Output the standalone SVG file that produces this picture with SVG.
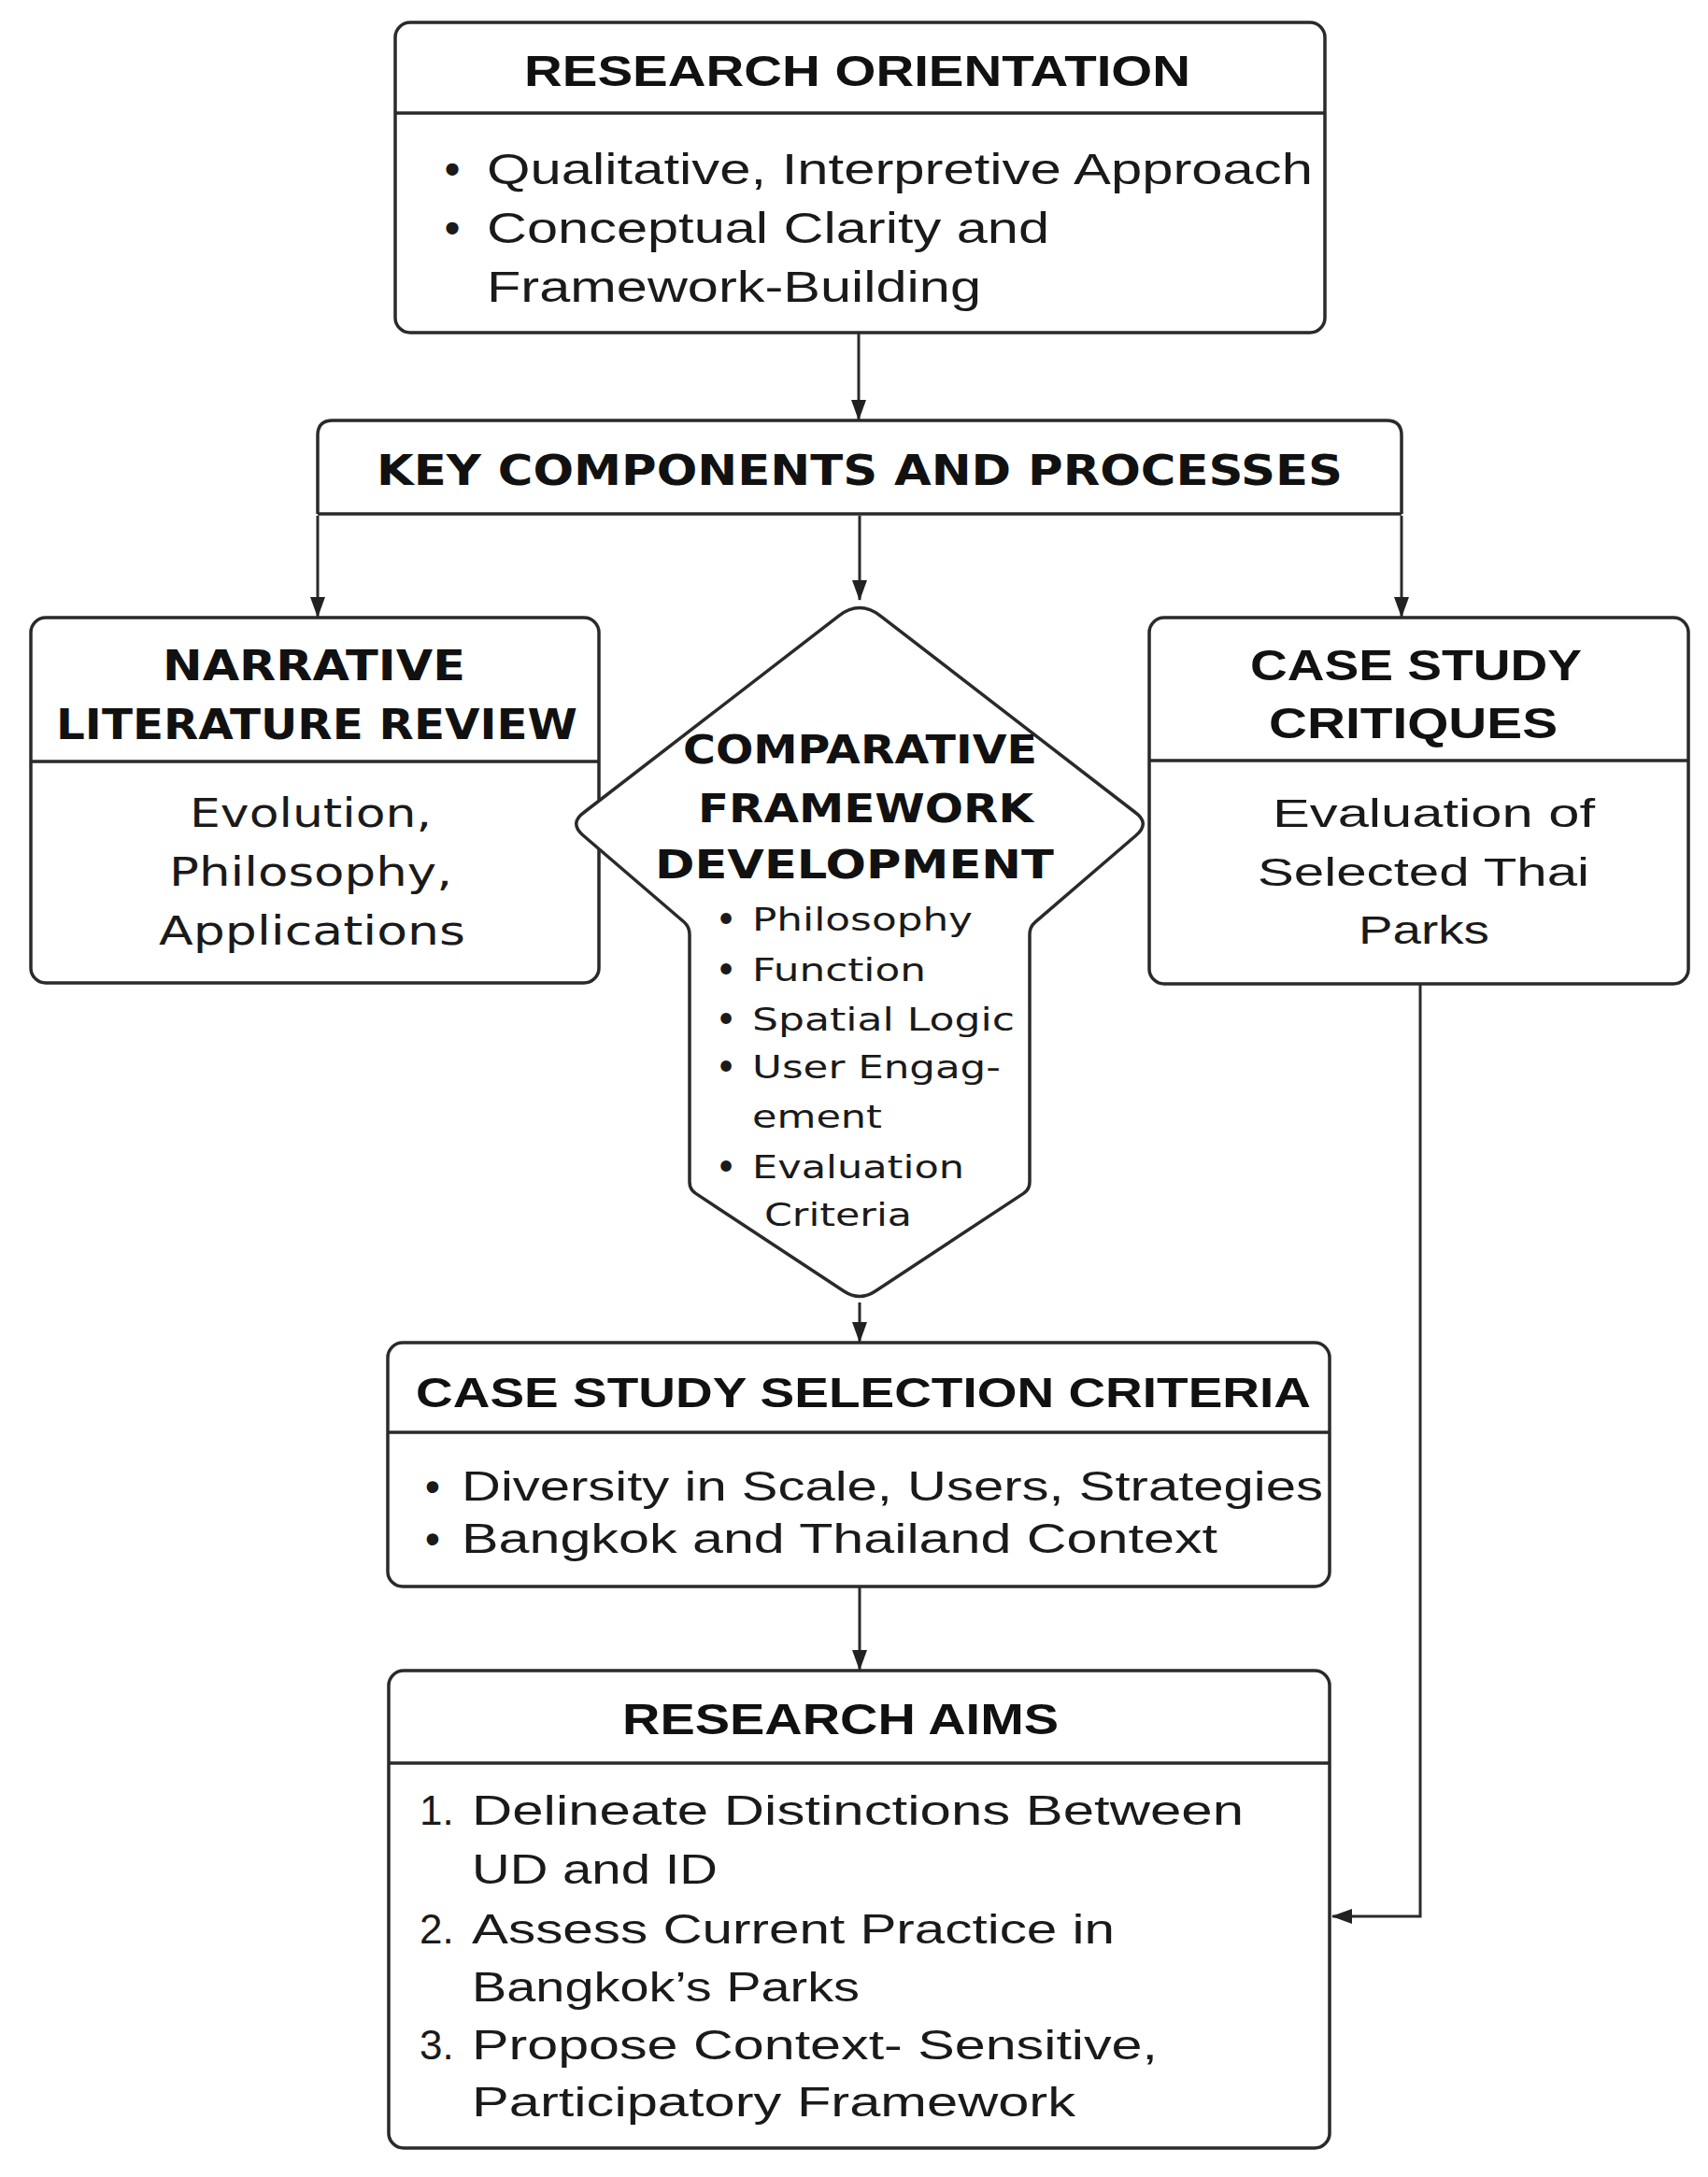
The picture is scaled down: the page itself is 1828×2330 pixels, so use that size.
<svg xmlns="http://www.w3.org/2000/svg" width="1828" height="2330" viewBox="0 0 1828 2330">
<defs>
<marker id="ah" markerUnits="userSpaceOnUse" markerWidth="22" markerHeight="16" viewBox="0 0 22 16" refX="21" refY="8" orient="auto">
<path d="M0,0 L22,8 L0,16 Z" fill="#222"/>
</marker>
</defs>
<style>
.box{fill:#fff;stroke:#2a2a2a;stroke-width:3.5}
.div{stroke:#2a2a2a;stroke-width:3.5}
.con{fill:none;stroke:#2a2a2a;stroke-width:3}
.cb{font-family:"Liberation Sans",Arial,sans-serif;font-weight:bold;fill:#111}
.cn{font-family:"Liberation Sans",Arial,sans-serif;fill:#1a1a1a}
.wb{font-family:"DejaVu Sans",Verdana,sans-serif;font-weight:bold;fill:#111}
.wn{font-family:"DejaVu Sans",Verdana,sans-serif;fill:#1a1a1a}
.dot{font-weight:bold}
</style>
<rect width="1828" height="2330" fill="#fff"/>

<g id="research-orientation">
<rect class="box" x="423" y="24" width="995" height="332" rx="16"/>
<line class="div" x1="423" y1="121" x2="1418" y2="121"/>
<text class="cb" x="561" y="92" font-size="46" textLength="713" lengthAdjust="spacingAndGlyphs">RESEARCH ORIENTATION</text>
<text class="cn dot" x="484" y="197" font-size="46" text-anchor="middle">•</text>
<text class="cn" x="521" y="197" font-size="46" textLength="884" lengthAdjust="spacingAndGlyphs">Qualitative, Interpretive Approach</text>
<text class="cn dot" x="484" y="260" font-size="46" text-anchor="middle">•</text>
<text class="cn" x="521" y="260" font-size="46" textLength="602" lengthAdjust="spacingAndGlyphs">Conceptual Clarity and</text>
<text class="cn" x="521" y="323" font-size="46" textLength="529" lengthAdjust="spacingAndGlyphs">Framework-Building</text>
</g>

<g id="key-components">
<path class="box" d="M340,550 L340,466 Q340,450 356,450 L1484,450 Q1500,450 1500,466 L1500,550"/>
<line class="div" x1="340" y1="550" x2="1500" y2="550"/>
<text class="wb" x="403" y="519" font-size="44" textLength="1034" lengthAdjust="spacingAndGlyphs">KEY COMPONENTS AND PROCESSES</text>
</g>

<g id="narrative-review">
<rect class="box" x="33" y="661" width="608" height="391" rx="16"/>
<line class="div" x1="33" y1="815" x2="641" y2="815"/>
<text class="wb" x="174" y="728" font-size="44" textLength="324" lengthAdjust="spacingAndGlyphs">NARRATIVE</text>
<text class="wb" x="60" y="791" font-size="44" textLength="558" lengthAdjust="spacingAndGlyphs">LITERATURE REVIEW</text>
<text class="wn" x="203" y="885" font-size="42" textLength="259" lengthAdjust="spacingAndGlyphs">Evolution,</text>
<text class="wn" x="181" y="948" font-size="42" textLength="303" lengthAdjust="spacingAndGlyphs">Philosophy,</text>
<text class="wn" x="170" y="1011" font-size="42" textLength="328" lengthAdjust="spacingAndGlyphs">Applications</text>
</g>

<g id="case-study-critiques">
<rect class="box" x="1230" y="661" width="577" height="392" rx="16"/>
<line class="div" x1="1230" y1="814" x2="1807" y2="814"/>
<text class="cb" x="1338" y="728" font-size="46" textLength="355" lengthAdjust="spacingAndGlyphs">CASE STUDY</text>
<text class="cb" x="1358" y="790" font-size="46" textLength="309" lengthAdjust="spacingAndGlyphs">CRITIQUES</text>
<text class="cn" x="1362" y="885" font-size="42" textLength="345" lengthAdjust="spacingAndGlyphs">Evaluation of</text>
<text class="cn" x="1346" y="948" font-size="42" textLength="355" lengthAdjust="spacingAndGlyphs">Selected Thai</text>
<text class="cn" x="1454" y="1010" font-size="42" textLength="140" lengthAdjust="spacingAndGlyphs">Parks</text>
</g>

<g id="comparative-framework">
<path class="box" d="M897.8,659.1 Q920,642 942.2,659.1 L1215,869.5 Q1231,881 1216,894 L1108,986.8 Q1102,992 1102,1000 L1102,1265 Q1102,1273 1095.3,1277.4 L936.7,1382 Q920,1393 903.3,1382 L744.7,1277.4 Q738,1273 738,1265 L738,1000 Q738,992 732,986.8 L624,894 Q609,881 625,869.5 Z"/>
<text class="wb" x="731" y="817" font-size="42" textLength="379" lengthAdjust="spacingAndGlyphs">COMPARATIVE</text>
<text class="wb" x="747" y="880" font-size="42" textLength="359" lengthAdjust="spacingAndGlyphs">FRAMEWORK</text>
<text class="wb" x="701" y="940" font-size="42" textLength="427" lengthAdjust="spacingAndGlyphs">DEVELOPMENT</text>
<text class="wn dot" x="777" y="996" font-size="33" text-anchor="middle">•</text>
<text class="wn" x="805" y="996" font-size="33" textLength="236" lengthAdjust="spacingAndGlyphs">Philosophy</text>
<text class="wn dot" x="777" y="1050" font-size="33" text-anchor="middle">•</text>
<text class="wn" x="805" y="1050" font-size="33" textLength="186" lengthAdjust="spacingAndGlyphs">Function</text>
<text class="wn dot" x="777" y="1103" font-size="33" text-anchor="middle">•</text>
<text class="wn" x="805" y="1103" font-size="33" textLength="281" lengthAdjust="spacingAndGlyphs">Spatial Logic</text>
<text class="wn dot" x="777" y="1154" font-size="33" text-anchor="middle">•</text>
<text class="wn" x="805" y="1154" font-size="33" textLength="266" lengthAdjust="spacingAndGlyphs">User Engag-</text>
<text class="wn" x="805" y="1207" font-size="33" textLength="139" lengthAdjust="spacingAndGlyphs">ement</text>
<text class="wn dot" x="777" y="1261" font-size="33" text-anchor="middle">•</text>
<text class="wn" x="805" y="1261" font-size="33" textLength="227" lengthAdjust="spacingAndGlyphs">Evaluation</text>
<text class="wn" x="818" y="1312" font-size="33" textLength="158" lengthAdjust="spacingAndGlyphs">Criteria</text>
</g>

<g id="selection-criteria">
<rect class="box" x="415" y="1437" width="1008" height="261" rx="16"/>
<line class="div" x1="415" y1="1533" x2="1423" y2="1533"/>
<text class="cb" x="445" y="1506" font-size="44" textLength="958" lengthAdjust="spacingAndGlyphs">CASE STUDY SELECTION CRITERIA</text>
<text class="cn dot" x="463" y="1606" font-size="44" text-anchor="middle">•</text>
<text class="cn" x="494" y="1606" font-size="44" textLength="922" lengthAdjust="spacingAndGlyphs">Diversity in Scale, Users, Strategies</text>
<text class="cn dot" x="463" y="1662" font-size="44" text-anchor="middle">•</text>
<text class="cn" x="494" y="1662" font-size="44" textLength="809" lengthAdjust="spacingAndGlyphs">Bangkok and Thailand Context</text>
</g>

<g id="research-aims">
<rect class="box" x="416" y="1788" width="1007" height="511" rx="16"/>
<line class="div" x1="416" y1="1887" x2="1423" y2="1887"/>
<text class="cb" x="666" y="1856" font-size="46" textLength="467" lengthAdjust="spacingAndGlyphs">RESEARCH AIMS</text>
<text class="cn" x="449" y="1953" font-size="44">1.</text>
<text class="cn" x="505" y="1953" font-size="44" textLength="826" lengthAdjust="spacingAndGlyphs">Delineate Distinctions Between</text>
<text class="cn" x="505" y="2016" font-size="44" textLength="263" lengthAdjust="spacingAndGlyphs">UD and ID</text>
<text class="cn" x="449" y="2080" font-size="44">2.</text>
<text class="cn" x="505" y="2080" font-size="44" textLength="688" lengthAdjust="spacingAndGlyphs">Assess Current Practice in</text>
<text class="cn" x="505" y="2142" font-size="44" textLength="415" lengthAdjust="spacingAndGlyphs">Bangkok’s Parks</text>
<text class="cn" x="449" y="2204" font-size="44">3.</text>
<text class="cn" x="505" y="2204" font-size="44" textLength="734" lengthAdjust="spacingAndGlyphs">Propose Context- Sensitive,</text>
<text class="cn" x="505" y="2265" font-size="44" textLength="646" lengthAdjust="spacingAndGlyphs">Participatory Framework</text>
</g>

<g id="connectors">
<path class="con" d="M919,357 L919,449" marker-end="url(#ah)"/>
<path class="con" d="M340,552 L340,660" marker-end="url(#ah)"/>
<path class="con" d="M920,552 L920,642" marker-end="url(#ah)"/>
<path class="con" d="M1500,552 L1500,660" marker-end="url(#ah)"/>
<path class="con" d="M920,1394 L920,1436" marker-end="url(#ah)"/>
<path class="con" d="M920,1699 L920,1787" marker-end="url(#ah)"/>
<path class="con" d="M1520,1054 L1520,2051 L1426,2051" marker-end="url(#ah)"/>
</g>
</svg>
